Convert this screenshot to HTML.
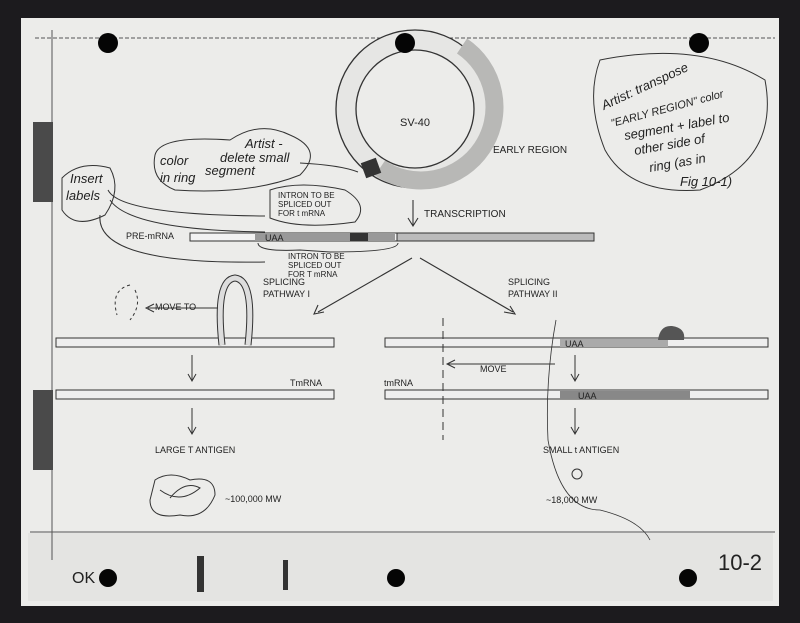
<!DOCTYPE html>
<html><head><meta charset="utf-8"><style>
html,body{margin:0;padding:0;background:#1b1b1d;}
svg{display:block;}
text{font-family:"Liberation Sans",sans-serif;fill:#222;}
</style></head><body>
<svg width="800" height="623" viewBox="0 0 800 623" xmlns="http://www.w3.org/2000/svg">
<rect x="0" y="0" width="800" height="623" fill="#1c1b1e"/>
<rect x="21" y="18" width="758" height="588" fill="#ececea"/>
<rect x="28" y="533" width="745" height="68" fill="#e4e4e2"/>
<g stroke="#555" stroke-width="1" fill="none">
<line x1="35" y1="38" x2="775" y2="38" stroke-dasharray="4 2"/>
<line x1="52" y1="30" x2="52" y2="560"/>
<line x1="30" y1="532" x2="775" y2="532"/>
</g>
<rect x="33" y="122" width="20" height="80" fill="#4a4a4a"/>
<rect x="33" y="390" width="20" height="80" fill="#4a4a4a"/>
<!-- SV40 ring -->
<circle cx="415" cy="109" r="79" fill="#e6e6e4" stroke="#333" stroke-width="1.3"/>
<circle cx="415" cy="109" r="59" fill="#ececea" stroke="#333" stroke-width="1.3"/>
<path d="M462 46 A69 69 0 0 1 380 168" fill="none" stroke="#b8b8b6" stroke-width="18"/>
<rect x="363" y="160" width="16" height="16" fill="#333" transform="rotate(-20 371 168)"/>
<g fill="#050505">
<circle cx="108" cy="43" r="10"/><circle cx="405" cy="43" r="10"/><circle cx="699" cy="43" r="10"/>
<circle cx="108" cy="578" r="9"/><circle cx="396" cy="578" r="9"/><circle cx="688" cy="578" r="9"/>
<rect x="197" y="556" width="7" height="36" fill="#333"/><rect x="283" y="560" width="5" height="30" fill="#333"/>
</g>
<text x="400" y="126" font-size="11">SV-40</text>
<text x="493" y="153" font-size="10">EARLY REGION</text>
<g fill="none" stroke="#333" stroke-width="1">
<path d="M600 60 Q700 40 765 80 Q780 160 700 190 Q630 195 605 150 Q585 100 600 60Z"/>
<path d="M155 155 Q160 135 230 140 Q260 120 290 135 Q325 150 300 175 Q250 195 175 190 Q150 180 155 155Z"/>
<path d="M62 178 Q80 160 110 168 Q122 190 105 215 Q75 230 62 210Z"/>
<path d="M108 190 Q120 215 265 216"/><path d="M110 200 Q130 230 265 232"/><path d="M100 215 Q95 265 265 262"/>
<path d="M270 190 Q300 180 345 190 Q370 205 355 222 Q300 230 270 218Z"/>
<path d="M300 163 Q340 165 358 172"/>
<path d="M258 243 Q258 252 300 250 L330 252 Q398 252 398 243"/>
</g>
<g font-size="13" fill="#222" font-family="Liberation Serif" font-style="italic">
<text x="604" y="110" transform="rotate(-25 604 110)">Artist: transpose</text>
<text x="612" y="127" transform="rotate(-15 612 127)" font-size="11">"EARLY REGION" color</text>
<text x="625" y="140" transform="rotate(-10 625 140)">segment + label to</text>
<text x="635" y="155" transform="rotate(-10 635 155)">other side of</text>
<text x="650" y="172" transform="rotate(-10 650 172)">ring (as in</text>
<text x="680" y="186">Fig 10-1)</text>
<text x="245" y="148">Artist -</text>
<text x="220" y="162">delete small</text>
<text x="160" y="165">color</text>
<text x="205" y="175">segment</text>
<text x="160" y="182">in ring</text>
<text x="70" y="183">Insert</text>
<text x="66" y="200">labels</text>
<text x="72" y="583" font-size="16" font-style="normal">OK</text>
<text x="718" y="570" font-size="22" font-style="normal" font-family="Liberation Sans">10-2</text>
</g>
<g font-size="8">
<text x="278" y="198">INTRON TO BE</text><text x="278" y="207">SPLICED OUT</text><text x="278" y="216">FOR t mRNA</text>
<text x="288" y="259">INTRON TO BE</text><text x="288" y="268">SPLICED OUT</text><text x="288" y="277">FOR T mRNA</text>
</g>
<g stroke="#333" fill="none" stroke-width="1.1">
<path d="M413 200 V225 M408 218 L413 226 L418 218"/>
<path d="M412 258 L318 312 M318 305 L314 314 L324 312"/>
<path d="M420 258 L513 312 M504 312 L515 314 L510 306"/>
</g>
<text x="424" y="217" font-size="10">TRANSCRIPTION</text>
<rect x="190" y="233" width="404" height="8" fill="#f2f2f2" stroke="#333"/>
<rect x="255" y="233" width="140" height="8" fill="#999"/>
<rect x="350" y="233" width="18" height="8" fill="#333"/>
<rect x="397" y="233" width="197" height="8" fill="#bbb" stroke="#333"/>
<text x="265" y="241" font-size="9">UAA</text>
<text x="126" y="239" font-size="9">PRE-mRNA</text>
<text x="263" y="285" font-size="9">SPLICING</text><text x="263" y="297" font-size="9">PATHWAY I</text>
<text x="508" y="285" font-size="9">SPLICING</text><text x="508" y="297" font-size="9">PATHWAY II</text>
<g stroke="#333" fill="#eee" stroke-width="1">
<rect x="56" y="338" width="278" height="9"/>
<rect x="56" y="390" width="278" height="9"/>
<rect x="385" y="338" width="383" height="9"/>
<rect x="385" y="390" width="383" height="9"/>
</g>
<rect x="560" y="339" width="108" height="8" fill="#aaa"/>
<rect x="560" y="391" width="130" height="8" fill="#888"/>
<text x="565" y="347" font-size="9">UAA</text><text x="578" y="399" font-size="9">UAA</text>
<path d="M222 345 Q215 280 235 278 Q255 280 248 345" fill="none" stroke="#333" stroke-width="7"/>
<path d="M222 345 Q215 280 235 278 Q255 280 248 345" fill="none" stroke="#ddd" stroke-width="5"/>
<path d="M658 340 Q660 325 672 326 Q686 328 684 340Z" fill="#555"/>
<g stroke="#333" fill="none" stroke-width="1">
<path d="M218 308 H148 M154 304 L146 308 L154 312"/>
<path d="M192 355 V380 M188 374 L192 381 L196 374"/>
<path d="M192 408 V433 M188 427 L192 434 L196 427"/>
<path d="M575 355 V380 M571 374 L575 381 L579 374"/>
<path d="M575 408 V433 M571 427 L575 434 L579 427"/>
<path d="M555 364 H448 M455 360 L447 364 L455 368"/>
<path d="M443 318 V440" stroke-dasharray="8 5"/>
<path d="M556 320 Q545 380 548 440 Q560 510 600 510 Q640 520 650 540" stroke-width="0.8"/>
<path d="M130 285 Q110 290 117 315 M135 290 Q142 305 130 320" stroke-dasharray="3 3"/>
<path d="M155 480 Q170 470 190 480 Q215 475 215 495 Q205 520 180 515 Q150 520 150 500Z"/>
<path d="M160 490 Q180 505 200 488 Q185 480 170 498"/>
</g>
<circle cx="577" cy="474" r="5" fill="none" stroke="#333"/>
<g font-size="9">
<text x="155" y="310">MOVE TO</text>
<text x="290" y="386">TmRNA</text><text x="384" y="386">tmRNA</text>
<text x="480" y="372">MOVE</text>
<text x="155" y="453">LARGE T ANTIGEN</text>
<text x="543" y="453">SMALL t ANTIGEN</text>
<text x="225" y="502">~100,000 MW</text>
<text x="546" y="503">~18,000 MW</text>
</g>
</svg>
</body></html>
